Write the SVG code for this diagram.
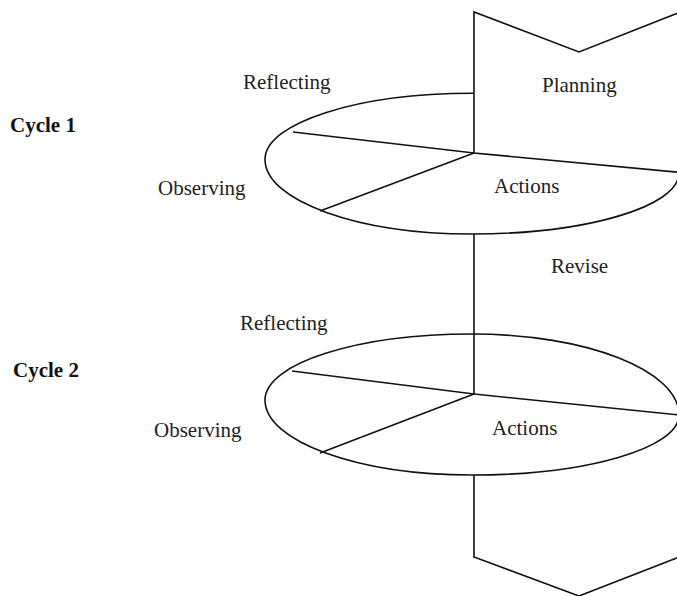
<svg xmlns="http://www.w3.org/2000/svg" width="677" height="596" viewBox="0 0 677 596">
<style>
.ln{fill:none;stroke:#111;stroke-width:1.6;stroke-linejoin:miter}
.t{font-family:"Liberation Serif","Times New Roman",serif;font-size:21px;fill:#222}
.b{font-weight:bold;fill:#111}
</style>
<rect width="677" height="596" fill="#fff"/>
<g id="cycle1">
<path class="ln" d="M472,93.3 C586.3,93.3 679,129 679,173 C679,206.7 586.3,234 472,234 C357.7,234 265,200.6 265,159.5 C265,122.9 357.7,93.3 472,93.3 Z"/>
</g>
<g id="planning">
<polygon points="474,12 579,52 700,4.2 700,174.5 474,153" fill="#fff" stroke="none"/>
<polyline class="ln" points="700,4.2 579,52 474,12 474,153 700,174.3"/>
<text class="t" x="542" y="92">Planning</text>
</g>
<g id="cycle2">
<path class="ln" d="M472,334 C586.3,334 679,370.3 679,415 C679,448.1 586.3,475 472,475 C357.7,475 265,441.4 265,400 C265,363.5 357.7,334 472,334 Z"/>
</g>
<g id="connectors">
<line class="ln" x1="474" y1="153" x2="293" y2="132"/>
<line class="ln" x1="474" y1="153" x2="320" y2="211"/>
<line class="ln" x1="474" y1="234" x2="474" y2="394"/>
<line class="ln" x1="474" y1="394" x2="292" y2="371"/>
<line class="ln" x1="474" y1="394" x2="320" y2="453"/>
<line class="ln" x1="474" y1="394" x2="679" y2="415"/>
<polyline class="ln" points="474,475 474,557 579,596 700,549"/>
</g>
<g id="labels">
<text class="t b" x="10" y="132">Cycle 1</text>
<text class="t" x="243" y="89">Reflecting</text>
<text class="t" x="158" y="195">Observing</text>
<text class="t" x="494" y="193">Actions</text>
<text class="t" x="551" y="273">Revise</text>
<text class="t b" x="13" y="377">Cycle 2</text>
<text class="t" x="240" y="330">Reflecting</text>
<text class="t" x="154" y="437">Observing</text>
<text class="t" x="492" y="435">Actions</text>
</g>
</svg>
